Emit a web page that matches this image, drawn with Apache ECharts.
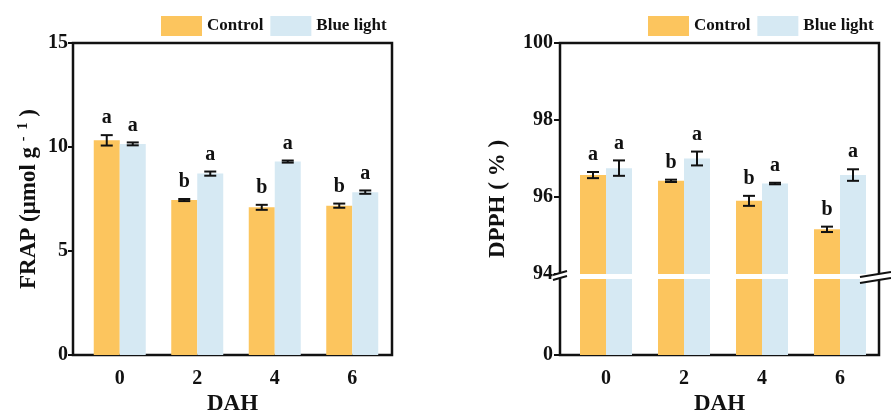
<!DOCTYPE html>
<html>
<head>
<meta charset="utf-8">
<script src="https://cdn.jsdelivr.net/npm/echarts@6/dist/echarts.min.js"></script>
<style>
  html, body { margin: 0; padding: 0; background: #fff; }
  #chart { width: 891px; height: 412px; }
</style>
</head>
<body>
<div id="chart"></div>
<script>
// Days after harvest
const days = ['0', '2', '4', '6'];

// FRAP (μmol g-1): means, standard errors, significance letters
const frapControl = [10.32, 7.45, 7.10, 7.18];
const frapControlErr = [0.25, 0.05, 0.12, 0.10];
const frapBlue = [10.15, 8.72, 9.30, 7.83];
const frapBlueErr = [0.07, 0.10, 0.05, 0.08];
const frapControlLetters = ['a', 'b', 'b', 'b'];
const frapBlueLetters = ['a', 'a', 'a', 'a'];

// DPPH (%): means, standard errors, significance letters
const dpphControl = [96.57, 96.42, 95.90, 95.16];
const dpphControlErr = [0.08, 0.03, 0.13, 0.07];
const dpphBlue = [96.75, 97.00, 96.35, 96.57];
const dpphBlueErr = [0.20, 0.18, 0.02, 0.15];
const dpphControlLetters = ['a', 'b', 'b', 'b'];
const dpphBlueLetters = ['a', 'a', 'a', 'a'];

// Tick values
const frapTicks = [0, 5, 10, 15];
const dpphUpperTicks = [94, 96, 98, 100];
const dpphLowerTicks = [0];

const FONT = '"Liberation Serif", "Times New Roman", serif';
const INK = '#111';
const ORANGE = '#FCC55E';
const BLUE = '#D6E9F3';
const BAR_W = 26;

const chart = echarts.init(document.getElementById('chart'), null, { renderer: 'canvas' });

function bars(name, color, xi, yi, values) {
  return {
    type: 'bar', name, xAxisIndex: xi, yAxisIndex: yi,
    data: values, barWidth: BAR_W, barGap: '0%',
    itemStyle: { color }, clip: true, silent: true
  };
}

function errorBars(xi, yi, values, errs, letters, shift) {
  return {
    type: 'custom', xAxisIndex: xi, yAxisIndex: yi, z: 5, silent: true,
    data: values.map((v, i) => [i, v, errs[i]]),
    encode: { x: 0, y: 1 },
    renderItem(params, api) {
      const i = api.value(0), v = api.value(1), e = api.value(2);
      const lo = api.coord([i, v - e]);
      const hi = api.coord([i, v + e]);
      const x = lo[0] + shift;
      const cap = 6;
      const style = { stroke: INK, lineWidth: 2 };
      return {
        type: 'group',
        children: [
          { type: 'line', shape: { x1: x, y1: lo[1], x2: x, y2: hi[1] }, style },
          { type: 'line', shape: { x1: x - cap, y1: lo[1], x2: x + cap, y2: lo[1] }, style },
          { type: 'line', shape: { x1: x - cap, y1: hi[1], x2: x + cap, y2: hi[1] }, style },
          {
            type: 'text', x: x, y: hi[1] - 7,
            style: {
              text: letters[params.dataIndex], fill: INK,
              font: 'bold 20px ' + FONT, align: 'center', verticalAlign: 'bottom'
            }
          }
        ]
      };
    }
  };
}

const tickLabel = { fontFamily: FONT, fontWeight: 'bold', fontSize: 20, color: INK };
const nameStyle = { fontFamily: FONT, fontWeight: 'bold', fontSize: 23, color: INK };

const legendBase = {
  top: 16, itemWidth: 41, itemHeight: 20, itemGap: 7, padding: 0,
  icon: 'rect', selectedMode: false, data: ['Control', 'Blue light'],
  textStyle: { fontFamily: FONT, fontWeight: 'bold', fontSize: 17, color: INK }
};

const gridBase = { outerBoundsMode: 'none', containLabel: false };

const option = {
  animation: false,
  backgroundColor: '#fff',
  legend: [
    Object.assign({ left: 161 }, legendBase),
    Object.assign({ left: 648 }, legendBase)
  ],
  grid: [
    // FRAP frame
    Object.assign({ left: 73, top: 43, width: 319, height: 312, show: true, borderColor: INK, borderWidth: 2.5, backgroundColor: 'transparent' }, gridBase),
    // FRAP bars
    Object.assign({ left: 81, top: 43, width: 310, height: 312 }, gridBase),
    // DPPH frame
    Object.assign({ left: 560, top: 43, width: 319, height: 312, show: true, borderColor: INK, borderWidth: 2.5, backgroundColor: 'transparent' }, gridBase),
    // DPPH upper segment (94-100)
    Object.assign({ left: 567, top: 43, width: 312, height: 231 }, gridBase),
    // DPPH lower segment (0-94)
    Object.assign({ left: 567, top: 279, width: 312, height: 76 }, gridBase)
  ],
  xAxis: [
    { gridIndex: 0, type: 'category', data: days, axisLine: { show: false }, axisTick: { show: false }, axisLabel: { show: false },
      name: 'DAH', nameLocation: 'middle', nameGap: 38, nameTextStyle: nameStyle },
    { gridIndex: 1, type: 'category', data: days, axisLine: { show: false }, axisTick: { show: false },
      axisLabel: Object.assign({ margin: 14 }, tickLabel) },
    { gridIndex: 2, type: 'category', data: days, axisLine: { show: false }, axisTick: { show: false }, axisLabel: { show: false },
      name: 'DAH', nameLocation: 'middle', nameGap: 38, nameTextStyle: nameStyle },
    { gridIndex: 3, type: 'category', data: days, show: false },
    { gridIndex: 4, type: 'category', data: days, axisLine: { show: false }, axisTick: { show: false },
      axisLabel: Object.assign({ margin: 14 }, tickLabel) }
  ],
  yAxis: [
    { gridIndex: 0, type: 'value', min: 0, max: 15, interval: 5, splitLine: { show: false },
      axisLine: { show: false },
      axisTick: { show: true, length: 5, lineStyle: { color: INK, width: 2 }, customValues: frapTicks },
      axisLabel: Object.assign({ margin: 5, customValues: frapTicks }, tickLabel),
      name: 'FRAP (μmol g {sup|-  1} )', nameLocation: 'middle', nameGap: 31,
      nameTextStyle: Object.assign({
        rich: { sup: { fontFamily: FONT, fontWeight: 'bold', fontSize: 14, color: INK, padding: [0, 0, 12, 0] } }
      }, nameStyle) },
    { gridIndex: 1, type: 'value', min: 0, max: 15, show: false },
    { gridIndex: 2, type: 'value', min: 0, max: 1, splitLine: { show: false },
      axisLine: { show: false }, axisTick: { show: false }, axisLabel: { show: false },
      name: 'DPPH ( % )', nameLocation: 'middle', nameGap: 50, nameTextStyle: nameStyle },
    { gridIndex: 3, type: 'value', min: 94, max: 100, interval: 2, offset: 7, splitLine: { show: false },
      axisLine: { show: false },
      axisTick: { show: true, length: 6, lineStyle: { color: INK, width: 2 }, customValues: dpphUpperTicks },
      axisLabel: Object.assign({ margin: 7, customValues: dpphUpperTicks }, tickLabel) },
    { gridIndex: 4, type: 'value', min: 0, max: 94, offset: 7, splitLine: { show: false },
      axisLine: { show: false },
      axisTick: { show: true, length: 6, lineStyle: { color: INK, width: 2 }, customValues: dpphLowerTicks },
      axisLabel: Object.assign({ margin: 7, customValues: dpphLowerTicks }, tickLabel) }
  ],
  series: [
    bars('Control', ORANGE, 1, 1, frapControl),
    bars('Blue light', BLUE, 1, 1, frapBlue),
    errorBars(1, 1, frapControl, frapControlErr, frapControlLetters, -BAR_W / 2),
    errorBars(1, 1, frapBlue, frapBlueErr, frapBlueLetters, BAR_W / 2),

    bars('Control', ORANGE, 3, 3, dpphControl),
    bars('Blue light', BLUE, 3, 3, dpphBlue),
    bars('Control', ORANGE, 4, 4, dpphControl),
    bars('Blue light', BLUE, 4, 4, dpphBlue),
    errorBars(3, 3, dpphControl, dpphControlErr, dpphControlLetters, -BAR_W / 2),
    errorBars(3, 3, dpphBlue, dpphBlueErr, dpphBlueLetters, BAR_W / 2)
  ],
  // Axis-break marks on the DPPH frame
  graphic: [
    { type: 'polygon', z: 100, shape: { points: [[553, 275], [567, 271], [567, 276], [553, 280]] }, style: { fill: '#fff' } },
    { type: 'line', z: 101, shape: { x1: 553, y1: 275, x2: 567, y2: 271 }, style: { stroke: INK, lineWidth: 2 } },
    { type: 'line', z: 101, shape: { x1: 553, y1: 280, x2: 567, y2: 276 }, style: { stroke: INK, lineWidth: 2 } },
    { type: 'polygon', z: 100, shape: { points: [[860, 277], [891, 272], [891, 278], [860, 283]] }, style: { fill: '#fff' } },
    { type: 'line', z: 101, shape: { x1: 860, y1: 277, x2: 891, y2: 272 }, style: { stroke: INK, lineWidth: 2 } },
    { type: 'line', z: 101, shape: { x1: 860, y1: 283, x2: 891, y2: 278 }, style: { stroke: INK, lineWidth: 2 } }
  ]
};

chart.setOption(option);
</script>
</body>
</html>
